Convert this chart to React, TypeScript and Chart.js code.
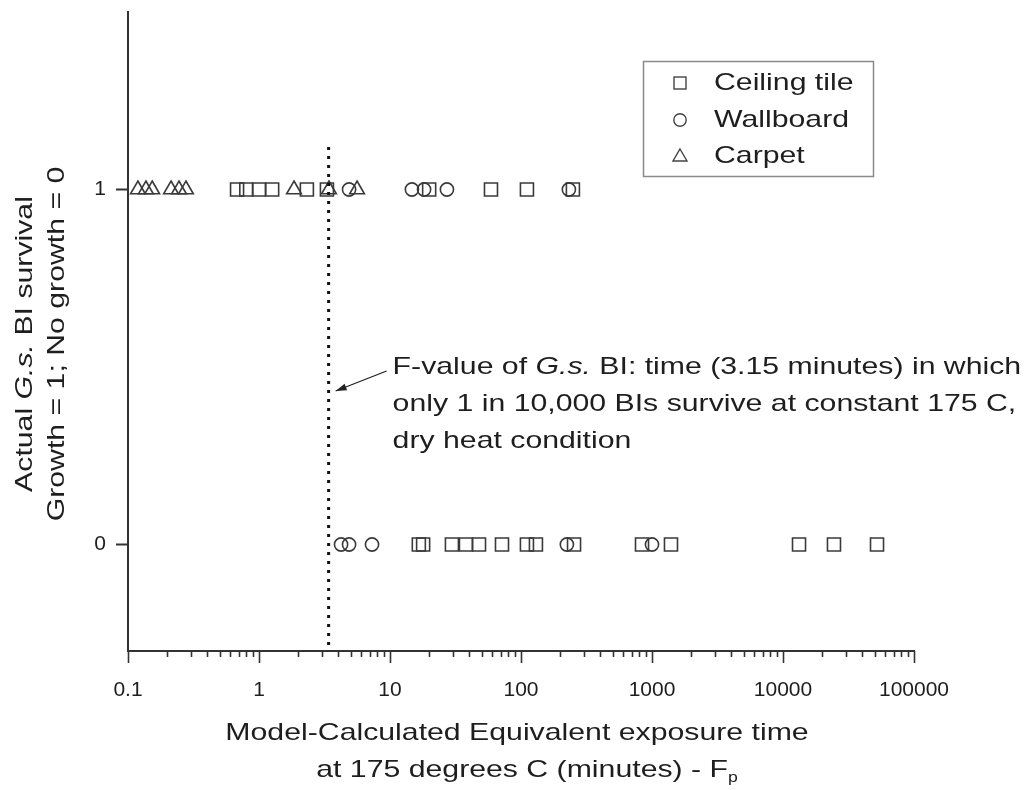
import React, { useEffect, useRef } from 'react';
import { Chart, registerables } from 'chart.js';

Chart.register(...registerables);

// ---------- data ----------
const seriesNames = ['Ceiling tile', 'Wallboard', 'Carpet'];
const xTickLabels = [0.1, 1, 10, 100, 1000, 10000, 100000];
const minorMultipliers = [2, 3, 4, 5, 6, 7, 8, 9];
const yTickLabels = [0, 1];

// x values (minutes) of BIs with growth (y = 1)
const ceilingGrowth = [0.68, 0.8, 1.0, 1.26, 2.32, 3.3, 19.9, 59, 111, 249];
const wallboardGrowth = [4.87, 14.7, 18.2, 27.2, 232];
const carpetGrowth = [0.119, 0.137, 0.153, 0.213, 0.245, 0.277, 1.85, 3.42, 5.6];

// x values (minutes) of BIs with no growth (y = 0)
const ceilingNoGrowth = [16.6, 17.9, 29.7, 38.0, 47.8, 71.6, 111, 130, 254, 839, 1396, 13250, 24500, 52200];
const wallboardNoGrowth = [4.23, 4.87, 7.29, 224, 1000];
const carpetNoGrowth: number[] = [];

// F-value reference line
const fValueX = [3.4, 3.4];
const fValueY = [1.12, -0.3];

const annotationLines = [
  [{ t: 'F-value of ', i: false }, { t: 'G.s.', i: true }, { t: ' BI: time (3.15 minutes) in which', i: false }],
  [{ t: 'only 1 in 10,000 BIs survive at constant 175 C,', i: false }],
  [{ t: 'dry heat condition', i: false }],
];

const FONT = '"Liberation Sans", Arial, sans-serif';
const TEXT = '#1e1e1e';
const SX = 1.26;

type Seg = { t: string; f: string; dy?: number };

function drawRich(ctx: CanvasRenderingContext2D, segs: Seg[], x: number, y: number, align: 'left' | 'center', sx: number, rot = 0) {
  ctx.save();
  ctx.translate(x, y);
  if (rot) ctx.rotate(rot);
  ctx.scale(sx, 1);
  const widths = segs.map((s) => {
    ctx.font = s.f;
    return ctx.measureText(s.t).width;
  });
  const total = widths.reduce((a, b) => a + b, 0);
  let cx = align === 'center' ? -total / 2 : 0;
  ctx.textBaseline = 'middle';
  ctx.textAlign = 'left';
  ctx.fillStyle = TEXT;
  segs.forEach((s, i) => {
    ctx.font = s.f;
    ctx.fillText(s.t, cx, s.dy || 0);
    cx += widths[i];
  });
  ctx.restore();
}

const norm = `24px ${FONT}`;
const ital = `italic 24px ${FONT}`;

const overlayPlugin = {
  id: 'overlay',
  afterDraw(chart: any) {
    const ctx: CanvasRenderingContext2D = chart.ctx;
    const xs = chart.scales.x;
    const ys = chart.scales.y;

    // x axis tick marks (major longer, minor shorter), outside
    ctx.save();
    ctx.strokeStyle = '#333';
    ctx.lineWidth = 1.6;
    xs.ticks.forEach((t: any) => {
      const px = Math.round(xs.getPixelForValue(t.value)) + 0.5;
      const major = xTickLabels.includes(t.value);
      const len = major ? 12 : 6;
      ctx.beginPath();
      ctx.moveTo(px, ys.bottom);
      ctx.lineTo(px, ys.bottom + len);
      ctx.stroke();
    });
    ctx.restore();

    // legend
    const lx = 643, ly = 61, lw = 230, lh = 115;
    ctx.save();
    ctx.strokeStyle = '#8a8a8a';
    ctx.lineWidth = 1.5;
    ctx.strokeRect(lx + 0.5, ly + 0.5, lw, lh);
    ctx.strokeStyle = '#444';
    ctx.lineWidth = 1.4;
    const rows = [83, 120, 156];
    const sxPos = lx + 37;
    ctx.strokeRect(sxPos - 6, rows[0] - 6, 12, 12);
    ctx.beginPath();
    ctx.arc(sxPos, rows[1], 6.2, 0, Math.PI * 2);
    ctx.stroke();
    ctx.beginPath();
    ctx.moveTo(sxPos, rows[2] - 7);
    ctx.lineTo(sxPos + 7, rows[2] + 5);
    ctx.lineTo(sxPos - 7, rows[2] + 5);
    ctx.closePath();
    ctx.stroke();
    ctx.restore();
    seriesNames.forEach((n, i) => {
      drawRich(ctx, [{ t: n, f: norm }], lx + 71, rows[i], 'left', SX);
    });

    // annotation + arrow
    const xLine = xs.getPixelForValue(fValueX[0]);
    const ay0 = ys.getPixelForValue(0.5);
    annotationLines.forEach((line, i) => {
      drawRich(
        ctx,
        line.map((s) => ({ t: s.t, f: s.i ? ital : norm })),
        xLine + 64,
        ay0 + i * 37,
        'left',
        SX
      );
    });
    const tailX = xLine + 58, tailY = ay0 + 4;
    const tipX = xLine + 7, tipY = ay0 + 24;
    ctx.save();
    ctx.strokeStyle = '#222';
    ctx.fillStyle = '#222';
    ctx.lineWidth = 1.3;
    ctx.beginPath();
    ctx.moveTo(tailX, tailY);
    ctx.lineTo(tipX, tipY);
    ctx.stroke();
    const ang = Math.atan2(tipY - tailY, tipX - tailX);
    const hl = 11, hw = 3.5;
    ctx.beginPath();
    ctx.moveTo(tipX, tipY);
    ctx.lineTo(tipX - hl * Math.cos(ang) + hw * Math.sin(ang), tipY - hl * Math.sin(ang) - hw * Math.cos(ang));
    ctx.lineTo(tipX - hl * Math.cos(ang) - hw * Math.sin(ang), tipY - hl * Math.sin(ang) + hw * Math.cos(ang));
    ctx.closePath();
    ctx.fill();
    ctx.restore();

    // axis titles
    const cxMid = (xs.left + xs.right) / 2;
    drawRich(ctx, [{ t: 'Model-Calculated Equivalent exposure time', f: norm }], cxMid - 4, 733, 'center', SX);
    drawRich(
      ctx,
      [
        { t: 'at 175 degrees C (minutes) - F', f: norm },
        { t: 'p', f: `14px ${FONT}`, dy: 8 },
      ],
      cxMid + 6,
      770,
      'center',
      SX
    );
    const cyMid = 344;
    drawRich(
      ctx,
      [
        { t: 'Actual ', f: norm },
        { t: 'G.s.', f: ital },
        { t: ' BI survival', f: norm },
      ],
      25,
      cyMid,
      'center',
      SX,
      -Math.PI / 2
    );
    drawRich(ctx, [{ t: 'Growth = 1; No growth = 0', f: norm }], 57, cyMid, 'center', SX, -Math.PI / 2);
  },
};

function pts(xsArr: number[], y: number) {
  return xsArr.map((x) => ({ x, y }));
}

export default function App() {
  const ref = useRef<HTMLCanvasElement>(null);
  useEffect(() => {
    if (!ref.current) return;
    const markerColor = '#3a3a3a';
    const chart = new Chart(ref.current, {
      type: 'scatter',
      data: {
        datasets: [
          {
            label: 'F-value',
            data: fValueX.map((x, i) => ({ x, y: fValueY[i] })),
            showLine: true,
            borderColor: '#111',
            borderWidth: 3,
            borderDash: [3, 6],
            borderCapStyle: 'butt',
            pointRadius: 0,
            fill: false,
          } as any,
          {
            label: seriesNames[0],
            data: [...pts(ceilingGrowth, 1), ...pts(ceilingNoGrowth, 0)],
            pointStyle: 'rect',
            pointRadius: 9.2,
            borderColor: markerColor,
            backgroundColor: 'rgba(0,0,0,0)',
            pointBorderWidth: 1.6,
          },
          {
            label: seriesNames[1],
            data: [...pts(wallboardGrowth, 1), ...pts(wallboardNoGrowth, 0)],
            pointStyle: 'circle',
            pointRadius: 6.6,
            borderColor: markerColor,
            backgroundColor: 'rgba(0,0,0,0)',
            pointBorderWidth: 1.6,
          },
          {
            label: seriesNames[2],
            data: [...pts(carpetGrowth, 1), ...pts(carpetNoGrowth, 0)],
            pointStyle: 'triangle',
            pointRadius: 8.5,
            borderColor: markerColor,
            backgroundColor: 'rgba(0,0,0,0)',
            pointBorderWidth: 1.6,
          },
        ],
      },
      options: {
        responsive: false,
        animation: false,
        devicePixelRatio: 1,
        layout: { padding: { left: 0, top: 12, right: 117, bottom: 0 } },
        plugins: { legend: { display: false }, tooltip: { enabled: false } },
        scales: {
          x: {
            type: 'logarithmic',
            min: xTickLabels[0],
            max: xTickLabels[xTickLabels.length - 1],
            afterBuildTicks: (scale: any) => {
              const ticks: any[] = [];
              xTickLabels.forEach((m, i) => {
                ticks.push({ value: m });
                if (i < xTickLabels.length - 1) minorMultipliers.forEach((k) => ticks.push({ value: m * k }));
              });
              scale.ticks = ticks;
            },
            afterFit: (scale: any) => {
              scale.height = 139;
              scale.paddingLeft = 0;
              scale.paddingRight = 0;
            },
            grid: { display: false, drawTicks: false },
            border: { display: true, color: '#333', width: 2 },
            ticks: {
              autoSkip: false,
              maxRotation: 0,
              padding: 27,
              color: TEXT,
              font: { family: FONT, size: 21 },
              callback: (v: any) => (xTickLabels.includes(v) ? String(v) : ''),
            },
          },
          y: {
            type: 'linear',
            min: -0.3,
            max: 1.5,
            afterBuildTicks: (scale: any) => {
              scale.ticks = yTickLabels.map((v) => ({ value: v }));
            },
            afterFit: (scale: any) => {
              scale.width = 128;
              scale.paddingTop = 0;
              scale.paddingBottom = 0;
            },
            grid: { drawOnChartArea: false, drawTicks: true, tickLength: 12, tickColor: '#333', tickWidth: 2 },
            border: { display: true, color: '#333', width: 2 },
            ticks: {
              padding: 10,
              color: TEXT,
              font: { family: FONT, size: 21 },
              callback: (v: any) => String(v),
            },
          },
        },
      } as any,
      plugins: [overlayPlugin],
    });
    return () => chart.destroy();
  }, []);
  return (
    <div style={{ position: 'fixed', left: 0, top: 0, width: 1031, height: 790, background: '#fff' }}>
      <canvas ref={ref} width={1031} height={790} style={{ width: 1031, height: 790, display: 'block' }} />
    </div>
  );
}
